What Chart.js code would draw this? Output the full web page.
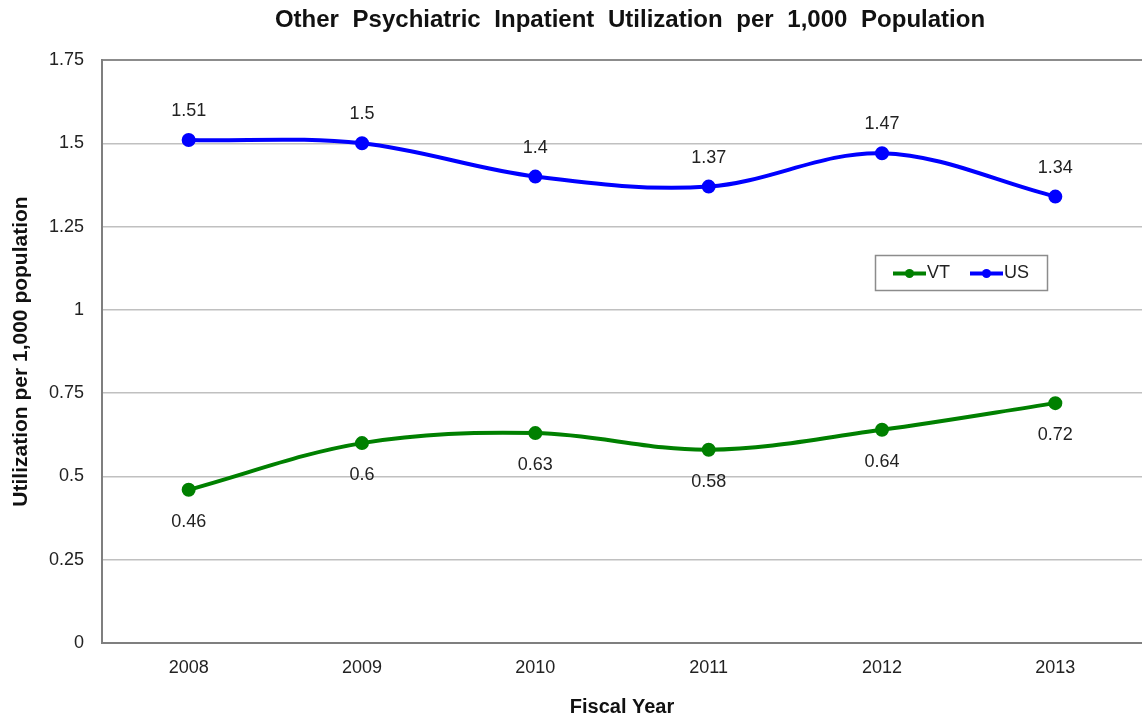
<!DOCTYPE html>
<html>
<head>
<meta charset="utf-8">
<script src="https://cdn.jsdelivr.net/npm/chart.js@4.4.1/dist/chart.umd.min.js"></script>
<style>
  html, body { margin: 0; padding: 0; background: #fff; }
  #wrap { width: 1142px; height: 719px; }
</style>
</head>
<body>
<div id="wrap"><canvas id="chart"></canvas></div>
<script>
// ----------------------------
// Chart data
// ----------------------------
const years = ['2008', '2009', '2010', '2011', '2012', '2013'];
const vtValues = [0.46, 0.6, 0.63, 0.58, 0.64, 0.72];
const usValues = [1.51, 1.5, 1.4, 1.37, 1.47, 1.34];
const yTicks = [0, 0.25, 0.5, 0.75, 1, 1.25, 1.5, 1.75];
const chartTitle = 'Other Psychiatric Inpatient Utilization per 1,000 Population';

const FONT = 'Liberation Sans, Arial, sans-serif';
const GREEN = '#008000';
const BLUE = '#0000ff';

// main title, centred over the plot area with the wide word gaps of the original
const plotTitle = {
  id: 'plotTitle',
  afterDraw(chart) {
    const ctx = chart.ctx;
    const area = chart.chartArea;
    ctx.save();
    ctx.font = 'bold 24px ' + FONT;
    if ('wordSpacing' in ctx) ctx.wordSpacing = '7px';
    ctx.fillStyle = '#111';
    ctx.textAlign = 'center';
    ctx.textBaseline = 'middle';
    ctx.fillText(chartTitle, (area.left + area.right) / 2 + 8, 20);
    ctx.restore();
  }
};

// value labels: US above the point, VT below
const valueLabels = {
  id: 'valueLabels',
  afterDatasetsDraw(chart) {
    const ctx = chart.ctx;
    ctx.save();
    ctx.font = '18px ' + FONT;
    ctx.fillStyle = '#222';
    ctx.textAlign = 'center';
    ctx.textBaseline = 'middle';
    chart.data.datasets.forEach((ds, i) => {
      const meta = chart.getDatasetMeta(i);
      const dy = ds.label === 'US' ? -29 : 32;
      meta.data.forEach((pt, j) => {
        ctx.fillText(String(ds.data[j]), pt.x, pt.y + dy);
      });
    });
    ctx.restore();
  }
};

// boxed legend sitting inside the plot area
const boxLegend = {
  id: 'boxLegend',
  afterDraw(chart) {
    const ctx = chart.ctx;
    const x0 = 875, y0 = 255, w = 172, h = 35;
    ctx.save();
    ctx.fillStyle = '#fff';
    ctx.fillRect(x0, y0, w, h);
    ctx.strokeStyle = '#8c8c8c';
    ctx.lineWidth = 1.5;
    ctx.strokeRect(x0 + 0.5, y0 + 0.5, w, h);
    ctx.font = '18px ' + FONT;
    ctx.textBaseline = 'middle';
    const cy = y0 + h / 2 + 1;
    const starts = [893, 970];
    chart.data.datasets.forEach((ds, i) => {
      const sx = starts[i];
      ctx.strokeStyle = ds.borderColor;
      ctx.lineWidth = 4;
      ctx.beginPath();
      ctx.moveTo(sx, cy);
      ctx.lineTo(sx + 33, cy);
      ctx.stroke();
      ctx.fillStyle = ds.borderColor;
      ctx.beginPath();
      ctx.arc(sx + 16.5, cy, 4.5, 0, Math.PI * 2);
      ctx.fill();
      ctx.fillStyle = '#222';
      ctx.fillText(ds.label, sx + 34, cy);
    });
    ctx.restore();
  }
};

new Chart(document.getElementById('chart'), {
  type: 'line',
  data: {
    labels: years,
    datasets: [
      {
        label: 'VT',
        data: vtValues,
        borderColor: GREEN,
        backgroundColor: GREEN,
        borderWidth: 4,
        pointRadius: 5,
        pointHoverRadius: 5,
        tension: 0.35,
        fill: false
      },
      {
        label: 'US',
        data: usValues,
        borderColor: BLUE,
        backgroundColor: BLUE,
        borderWidth: 4,
        pointRadius: 5,
        pointHoverRadius: 5,
        tension: 0.35,
        fill: false
      }
    ]
  },
  options: {
    responsive: true,
    maintainAspectRatio: false,
    animation: false,
    layout: { padding: { top: 60, left: 0, right: 0, bottom: 0 }, autoPadding: false },
    plugins: {
      legend: { display: false },
      tooltip: { enabled: false },
      title: { display: false }
    },
    scales: {
      x: {
        offset: true,
        afterFit(axis) {
          axis.paddingLeft = 0;
          axis.paddingRight = 0;
          axis.height = 76;
        },
        grid: { display: false, drawTicks: false },
        border: { display: true, color: '#7f7f7f', width: 2 },
        ticks: { color: '#222', font: { family: FONT, size: 18 }, padding: 14 },
        title: {
          display: true,
          text: 'Fiscal Year',
          color: '#111',
          font: { family: FONT, size: 20, weight: 'bold' },
          padding: { top: 17, bottom: 0 }
        }
      },
      y: {
        min: 0,
        max: 1.75,
        afterBuildTicks(axis) {
          axis.ticks = yTicks.map(v => ({ value: v }));
        },
        afterFit(axis) { axis.width = 102; },
        grid: {
          drawTicks: false,
          color: c => (c.tick && c.tick.value === 1.75 ? '#8c8c8c' : '#c0c0c0'),
          lineWidth: c => (c.tick && c.tick.value === 1.75 ? 2 : 1.5)
        },
        border: { display: true, color: '#7f7f7f', width: 2 },
        ticks: {
          color: '#222',
          font: { family: FONT, size: 18 },
          padding: 18,
          callback: v => String(Number(v))
        },
        title: {
          display: true,
          text: 'Utilization per 1,000 population',
          color: '#111',
          font: { family: FONT, size: 21, weight: 'bold' },
          padding: { top: 9, bottom: 0 }
        }
      }
    }
  },
  plugins: [valueLabels, boxLegend, plotTitle]
});
</script>
</body>
</html>
